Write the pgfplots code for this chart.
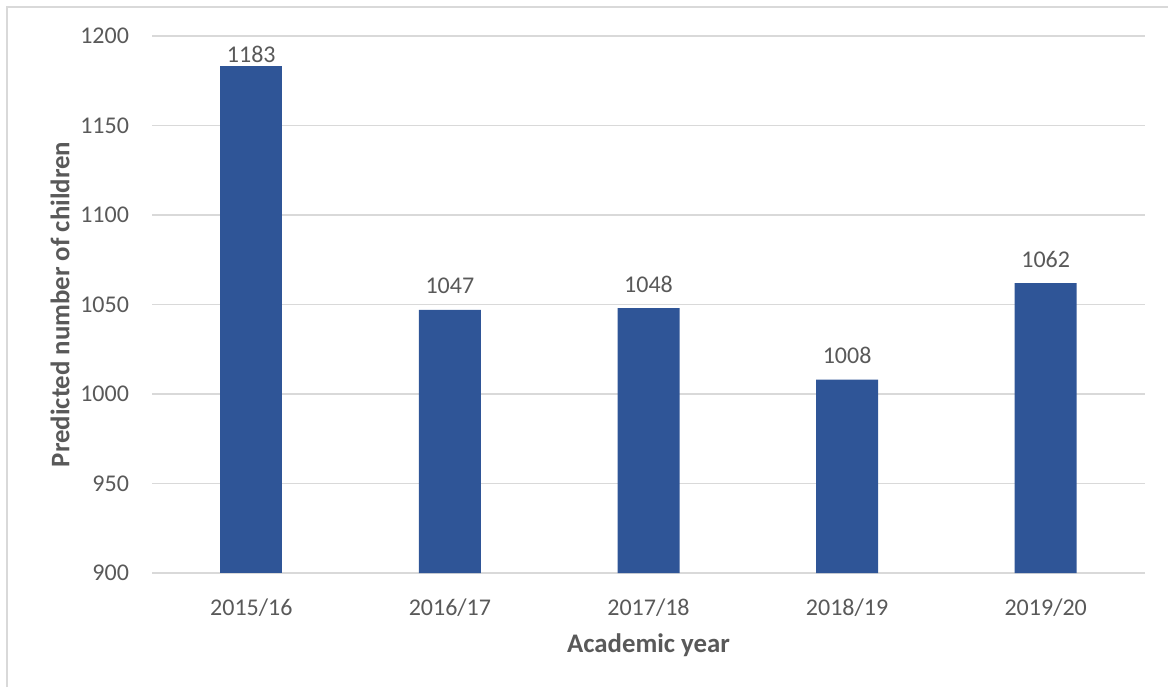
\documentclass[border=0pt]{standalone}
\usepackage{fontspec}
\setmainfont{Carlito}
\usepackage{pgfplots}
\pgfplotsset{compat=1.18}
\definecolor{barblue}{HTML}{2F5597}
\definecolor{txtgray}{HTML}{595959}
\definecolor{gridgray}{HTML}{D9D9D9}
\begin{document}
\begin{tikzpicture}
\path[use as bounding box] (0,0) rectangle (584pt,343.5pt);
\draw[gridgray, line width=0.9pt] (3.5pt,0) -- (3.5pt,340pt) -- (584pt,340pt);
\begin{axis}[
  at={(76pt,57pt)}, anchor=south west,
  scale only axis, width=496.5pt, height=268.5pt,
  ybar, bar width=31pt, bar shift=0pt,
  xmin=-0.5, xmax=4.5, ymin=900, ymax=1200,
  xtick={0,1,2,3,4},
  xticklabels={2015/16,2016/17,2017/18,2018/19,2019/20},
  ytick={900,950,...,1200},
  axis line style={draw=none},
  tick style={draw=none},
  ymajorgrids, major grid style={draw=gridgray, line width=0.8pt},
  /pgf/number format/assume math mode=true,
  /pgf/number format/1000 sep={},
  ticklabel style={font=\fontsize{12}{14}\selectfont, text=txtgray},
  yticklabel style={xshift=-8pt},
  xticklabel style={yshift=-5pt},
  xlabel={Academic year},
  ylabel={Predicted number of children},
  label style={font=\fontsize{13.4}{16}\selectfont\bfseries, text=txtgray},
  xlabel style={at={(axis description cs:0.5,-0.134)}, anchor=center},
  ylabel style={at={(axis description cs:-0.0926,0.5)}, anchor=center},
  nodes near coords,
  every node near coord/.append style={font=\fontsize{12}{14}\selectfont, text=txtgray, anchor=center},
]
\addplot[fill=barblue, draw=none, every node near coord/.append style={yshift=6pt}]
  coordinates {(0,1183)};
\addplot[fill=barblue, draw=none, every node near coord/.append style={yshift=12pt}]
  coordinates {(1,1047) (2,1048) (3,1008) (4,1062)};
\end{axis}
\end{tikzpicture}
\end{document}
